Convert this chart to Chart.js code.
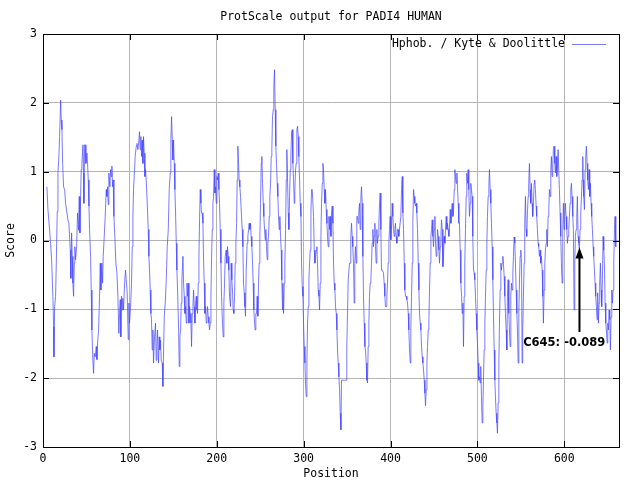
<!DOCTYPE html>
<html>
<head>
<meta charset="utf-8">
<script src="https://cdn.jsdelivr.net/npm/chart.js@4.4.1/dist/chart.umd.min.js"></script>
<style>
  html, body { margin: 0; padding: 0; background: #fff; }
  #wrap { width: 639px; height: 483px; position: relative; }
</style>
</head>
<body>
<div id="wrap"><canvas id="protChart"></canvas></div>
<script>
// Values (position, Kyte & Doolittle score)
const positions = [
  4.5, 5.7, 7.6, 8.7, 9.9, 11.4, 12.2, 12.6, 13.4, 14.5, 15.3, 16.4, 17.2, 18.3, 19.1, 20.3, 21.0, 21.8, 22.6, 23.7,
  24.9, 26.0, 28.7, 29.8, 31.4, 32.1, 32.9, 33.7, 34.4, 35.2, 36.0, 36.7, 37.5, 38.7, 39.8, 41.0, 41.7, 42.5, 43.3, 44.0,
  44.8, 46.0, 46.7, 47.1, 47.9, 48.6, 49.4, 50.6, 51.3, 52.1, 52.9, 53.6, 54.8, 55.5, 56.3, 57.5, 58.2, 59.0, 60.1, 61.3,
  62.1, 62.8, 64.0, 65.1, 65.9, 66.6, 67.8, 68.6, 69.3, 70.5, 71.6, 72.8, 73.5, 74.3, 75.1, 75.8, 77.0, 77.8, 78.5, 79.3,
  80.1, 80.8, 81.6, 82.7, 83.9, 85.1, 86.2, 87.3, 88.1, 88.9, 89.6, 90.4, 91.2, 91.9, 92.7, 93.9, 95.0, 95.8, 96.9, 98.1,
  98.9, 99.6, 100.8, 101.9, 102.7, 103.5, 104.2, 105.4, 106.1, 107.3, 108.1, 109.2, 110.4, 111.1, 111.9, 112.7, 113.4, 114.2, 115.0, 115.7,
  116.5, 117.3, 118.0, 118.8, 120.0, 121.1, 121.9, 122.6, 123.4, 124.2, 124.9, 125.7, 126.5, 127.2, 128.4, 129.5, 130.3, 131.1, 131.8, 133.0,
  133.8, 134.5, 135.3, 136.1, 137.2, 138.0, 138.8, 139.6, 140.7, 141.9, 143.0, 144.2, 145.3, 146.5, 147.2, 148.0, 148.8, 149.5, 150.3, 151.1,
  151.8, 152.6, 153.4, 154.1, 154.9, 156.1, 156.8, 157.6, 158.4, 159.1, 159.9, 161.1, 161.8, 162.6, 163.4, 164.1, 164.9, 165.7, 166.4, 167.2,
  168.0, 168.7, 169.5, 170.3, 171.0, 171.8, 172.6, 173.3, 174.1, 174.9, 175.6, 176.4, 177.2, 177.9, 178.7, 179.5, 180.2, 181.0, 181.8, 182.5,
  183.3, 184.1, 184.8, 185.6, 186.4, 187.1, 187.9, 188.7, 189.4, 190.2, 191.0, 191.7, 192.5, 193.3, 194.0, 194.8, 195.6, 196.3, 197.1, 197.9,
  198.6, 199.4, 200.2, 200.9, 201.7, 202.5, 203.2, 204.0, 204.8, 205.5, 206.3, 207.4, 208.2, 209.0, 209.7, 210.9, 211.6, 212.4, 213.2, 213.9,
  214.7, 215.9, 216.6, 217.4, 218.2, 218.9, 219.7, 220.5, 221.2, 222.0, 222.8, 223.5, 224.3, 225.1, 225.8, 226.6, 227.4, 228.5, 229.3, 230.1,
  230.8, 231.6, 232.4, 233.1, 233.9, 235.0, 235.8, 236.6, 237.3, 238.1, 238.9, 239.6, 240.4, 241.2, 241.9, 242.7, 243.5, 244.2, 245.0, 245.8,
  246.5, 247.3, 248.1, 248.8, 249.6, 250.4, 251.2, 251.9, 252.7, 253.5, 254.2, 255.0, 255.8, 256.5, 257.3, 258.1, 258.8, 259.6, 260.4, 261.1,
  261.9, 262.7, 263.4, 264.2, 265.0, 265.7, 266.5, 267.3, 268.0, 268.8, 269.6, 270.3, 271.1, 271.9, 272.6, 273.4, 274.2, 274.9, 275.7, 276.1,
  276.9, 277.7, 278.4, 279.2, 280.0, 280.7, 281.5, 282.3, 283.0, 283.8, 284.6, 285.3, 286.1, 286.9, 287.6, 288.4, 289.2, 289.9, 290.7, 291.5,
  292.2, 293.0, 293.8, 294.5, 295.3, 296.1, 296.9, 297.6, 298.4, 299.2, 299.9, 300.7, 301.5, 302.2, 303.0, 303.8, 304.5, 305.3, 306.1, 306.8,
  307.6, 308.4, 309.1, 309.9, 310.7, 311.4, 312.2, 313.0, 313.7, 314.5, 315.3, 316.0, 316.8, 317.6, 318.3, 319.1, 319.9, 320.6, 321.4, 322.2,
  322.9, 323.7, 324.5, 325.2, 326.0, 326.8, 327.5, 328.3, 329.1, 329.8, 330.6, 331.4, 332.1, 332.9, 333.7, 334.4, 335.2, 336.0, 336.7, 337.5,
  338.3, 339.0, 339.8, 340.6, 341.4, 342.1, 342.9, 343.6, 344.4, 345.1, 346.7, 348.2, 349.0, 349.7, 350.5, 351.3, 352.0, 352.8, 353.6, 354.3,
  355.1, 355.9, 356.6, 357.4, 358.2, 358.9, 359.7, 360.5, 361.2, 362.0, 362.8, 363.5, 364.3, 365.1, 365.9, 366.6, 367.4, 368.2, 368.9, 369.7,
  370.5, 371.2, 372.0, 372.8, 373.5, 374.3, 375.1, 375.8, 376.6, 377.4, 378.1, 378.9, 379.7, 380.4, 381.2, 382.0, 382.7, 383.5, 384.3, 385.0,
  385.8, 386.6, 387.3, 388.1, 388.9, 389.6, 390.4, 391.2, 391.9, 392.7, 393.5, 394.2, 395.0, 395.8, 396.5, 397.3, 398.1, 398.8, 399.6, 400.4,
  401.1, 401.9, 402.7, 403.4, 404.2, 405.0, 405.7, 406.5, 407.3, 408.0, 408.8, 409.6, 410.3, 411.9, 412.7, 413.5, 414.2, 415.0, 415.8, 416.5,
  417.3, 418.1, 418.8, 419.6, 420.4, 421.1, 421.9, 422.7, 423.4, 424.2, 425.0, 425.7, 426.5, 427.3, 428.0, 428.8, 429.6, 430.3, 431.1, 431.9,
  432.7, 433.4, 434.2, 435.0, 435.7, 436.5, 437.3, 438.0, 438.8, 439.6, 440.3, 441.1, 441.9, 442.6, 443.4, 444.2, 444.9, 445.7, 446.5, 447.2,
  448.0, 448.8, 449.5, 450.3, 451.1, 451.8, 452.6, 453.4, 454.1, 454.9, 455.7, 456.4, 457.2, 458.0, 458.7, 459.5, 460.3, 461.0, 461.8, 462.6,
  463.3, 464.1, 464.9, 465.6, 466.4, 467.2, 467.9, 468.7, 469.5, 470.2, 471.0, 471.8, 472.5, 473.3, 474.1, 474.8, 475.6, 476.4, 477.1, 477.9,
  478.7, 479.4, 480.2, 481.0, 481.8, 482.5, 483.3, 484.0, 484.8, 485.5, 486.3, 487.1, 487.8, 488.6, 489.4, 490.1, 490.9, 491.7, 492.4, 493.2,
  494.0, 494.7, 495.5, 496.3, 497.0, 497.8, 498.6, 499.3, 500.1, 500.9, 501.6, 502.4, 503.2, 503.9, 504.7, 505.5, 506.3, 507.0, 507.8, 508.6,
  509.3, 510.1, 510.9, 511.6, 512.4, 513.2, 513.9, 514.7, 515.5, 516.2, 517.0, 517.8, 518.5, 519.3, 520.1, 520.8, 521.6, 522.4, 523.1, 523.9,
  524.7, 525.4, 526.2, 527.0, 527.7, 528.5, 529.3, 530.0, 530.8, 531.6, 532.3, 533.1, 533.9, 534.6, 535.4, 536.2, 536.9, 537.7, 538.5, 539.2,
  540.0, 540.8, 541.5, 542.3, 543.1, 543.8, 544.6, 545.4, 546.1, 546.9, 547.7, 548.4, 549.2, 550.0, 550.8, 551.5, 552.2, 553.0, 553.8, 554.5,
  555.3, 556.1, 556.8, 557.6, 558.4, 559.1, 559.9, 560.7, 561.4, 562.2, 563.0, 563.7, 564.5, 565.3, 566.0, 566.8, 567.6, 568.3, 569.1, 569.9,
  570.6, 571.4, 572.2, 572.9, 573.7, 574.5, 575.3, 576.0, 576.8, 577.6, 578.3, 579.1, 579.9, 580.6, 581.4, 582.2, 582.9, 583.7, 584.5, 585.2,
  586.0, 586.8, 587.5, 588.3, 589.1, 589.8, 590.6, 591.4, 592.1, 592.9, 593.7, 594.4, 595.2, 596.0, 596.7, 597.5, 598.3, 599.0, 599.8, 600.6,
  601.3, 602.1, 602.9, 603.6, 604.4, 605.2, 605.9, 606.7, 607.5, 608.2, 609.0, 609.8, 610.5, 611.3, 612.1, 612.8, 613.6, 614.4, 615.1, 615.9,
  616.7, 617.4, 618.2, 619.0, 619.8, 620.5, 621.3, 621.7, 622.4, 623.2, 624.0, 624.7, 625.5, 626.3, 627.0, 627.8, 628.6, 629.3, 630.1, 630.9,
  631.6, 632.4, 633.2, 633.9, 634.7, 635.5, 636.2, 637.0, 637.8, 638.5, 639.3, 640.1, 640.8, 641.6, 642.4, 643.1, 643.9, 644.7, 645.5, 646.2,
  647.0, 647.8, 648.5, 649.3, 650.1, 650.8, 651.6, 652.4, 653.1, 653.9, 654.7, 655.5, 656.2, 657.0, 657.8, 658.5, 659.3
];
const scores = [
  0.78, 0.45, 0.15, -0.04, -0.28, -0.81, -1.25, -1.69, -0.96, -0.81, -0.33, 0.42, 0.98, 1.22, 1.51, 2.04, 1.75, 1.61, 1.12, 0.78,
  0.74, 0.54, 0.30, 0.25, -0.14, -0.55, 0.11, -0.23, -0.62, -0.81, -0.33, -0.09, -0.28, -0.09, 0.40, 0.15, 0.64, 0.11, 0.64, 1.03,
  1.12, 1.39, 0.98, 0.54, 1.39, 1.39, 1.12, 1.27, 1.12, 0.88, 0.50, 0.16, -0.23, -0.72, -1.30, -1.78, -1.93, -1.64, -1.69, -1.54,
  -1.73, -1.49, -1.30, -0.81, -0.33, -0.72, -0.33, -0.62, -0.23, 0.06, 0.35, 0.74, 0.64, 0.78, 0.52, 0.98, 0.78, 1.03, 0.93, 1.08,
  0.78, 0.88, 0.35, 0.06, -0.33, -0.47, -0.81, -1.35, -1.06, -0.86, -1.40, -0.81, -1.01, -0.84, -1.01, -0.62, -0.43, -0.57, -0.76, -1.44,
  -0.91, -1.20, -0.96, -0.62, -0.09, 0.35, 0.74, 1.03, 1.22, 1.37, 1.41, 1.32, 1.46, 1.58, 1.32, 1.51, 1.22, 1.46, 1.12, 1.51,
  1.27, 0.93, 1.03, 0.88, 0.54, 0.16, -0.23, -0.43, -0.72, -1.06, -1.15, -1.59, -1.30, -1.78, -1.40, -1.20, -1.74, -1.54, -1.30, -1.78,
  -1.40, -1.59, -1.45, -1.74, -1.78, -2.12, -1.59, -1.10, -0.91, -0.57, -0.09, 0.16, 0.74, 0.98, 1.46, 1.80, 1.46, 1.17, 1.46, 1.12,
  0.74, 0.40, -0.04, -0.43, -0.72, -1.30, -1.83, -1.40, -1.30, -0.91, -0.57, -0.23, -0.62, -0.81, -1.06, -0.96, -1.20, -0.62, -0.81, -0.62,
  -1.20, -0.96, -1.06, -1.20, -1.54, -1.06, -0.96, -0.72, -0.96, -1.20, -0.91, -0.81, -1.01, -1.06, -0.62, -0.23, 0.30, 0.74, 0.54, 0.40,
  0.40, 0.25, -0.28, -0.62, -1.06, -0.96, -1.20, -1.11, -0.96, -1.11, -1.20, -1.30, -1.20, -0.81, -0.28, 0.16, 0.54, 0.64, 1.03, 0.69,
  0.78, 0.54, 0.93, 0.88, 0.98, 0.74, 0.54, 0.16, -0.33, -0.81, -1.11, -1.40, -0.91, -0.62, -0.23, -0.14, -0.33, -0.09, -0.23, -0.43,
  -0.81, -0.96, -0.33, -0.57, -0.76, -1.01, -1.06, -0.81, -0.33, -0.04, 0.25, 0.88, 1.37, 1.12, 0.88, 0.78, 0.64, 0.35, 0.16, -0.09,
  -0.62, -0.76, -0.96, -1.10, -0.43, -0.04, 0.06, 0.16, 0.25, 0.16, 0.25, 0.06, -0.09, -0.33, -0.62, -1.01, -1.20, -1.30, -1.06, -1.06,
  -0.81, -1.10, -0.62, -0.33, 0.06, 0.54, 1.12, 1.22, 0.83, 0.54, 0.35, 0.16, 0.01, 0.16, -0.09, -0.28, -0.04, 0.06, 0.35, 0.64,
  0.83, 1.22, 1.32, 1.80, 1.90, 2.24, 2.48, 1.90, 1.37, 1.12, 0.83, 0.64, 0.35, 0.16, 0.35, 0.06, -0.14, -0.57, -1.01, -0.62,
  -1.06, -0.62, -0.33, 0.16, 0.88, 1.32, 0.88, 0.40, 0.16, 0.64, 1.03, 1.22, 1.56, 1.61, 1.12, 0.88, 0.54, 0.74, 1.03, 1.12,
  1.61, 1.66, 1.51, 1.22, 0.88, 0.54, 0.35, -0.33, -0.67, -0.81, -1.20, -1.54, -1.78, -2.07, -2.27, -1.78, -1.20, -0.96, -0.57, -0.33,
  -0.14, 0.40, 0.74, 0.74, 0.74, 0.35, -0.14, -0.33, -0.23, -0.14, -0.09, -0.33, -0.72, -0.81, -1.01, -0.62, 0.06, 0.54, 0.83, 1.12,
  1.03, 0.74, 0.54, 0.74, 0.45, 0.25, 0.06, -0.09, 0.35, 0.16, 0.35, 0.06, 0.40, 0.50, 0.25, -0.33, -0.62, -0.72, -0.96, -1.06,
  -1.30, -1.59, -1.78, -1.98, -2.17, -2.51, -2.75, -2.03, -2.03, -2.03, -2.03, -2.03, -2.03, -1.54, -1.06, -0.57, -0.57, -0.33, -0.33, 0.06,
  0.25, 0.06, -0.09, -0.33, -0.91, -0.33, -0.09, -0.33, 0.35, 0.35, 0.25, 0.40, 0.54, 0.16, 0.64, 0.78, 0.54, -0.23, -0.81, -1.20,
  -1.54, -1.59, -1.78, -2.03, -2.07, -1.54, -1.20, -0.81, -0.62, -0.57, -0.33, -0.04, 0.16, -0.09, 0.06, 0.25, -0.09, -0.33, 0.16, -0.04,
  0.06, 0.25, 0.50, 0.69, 0.16, -0.43, -0.43, -0.43, -0.47, -0.62, -0.81, -0.96, -0.96, -0.81, -0.62, -0.33, -0.04, 0.16, 0.35, 0.01,
  0.16, 0.54, 0.35, 0.16, 0.06, 0.16, 0.25, 0.06, -0.04, 0.16, 0.16, 0.06, 0.16, 0.35, 0.74, 0.93, 0.40, 0.16, -0.33, -0.72,
  -0.81, -0.81, -0.86, -0.91, -1.06, -1.30, -1.59, -1.78, -1.30, -0.81, -0.33, 0.25, 0.74, 0.64, 0.54, 0.50, 0.54, 0.40, 0.16, -0.33,
  -0.72, -1.06, -1.20, -1.30, -1.54, -1.69, -1.78, -1.88, -2.03, -2.22, -2.40, -2.17, -1.78, -1.54, -1.30, -1.15, -0.72, -0.33, 0.06, 0.16,
  0.30, 0.06, -0.09, 0.16, 0.35, -0.04, -0.23, -0.14, 0.16, 0.06, -0.14, -0.33, -0.09, 0.06, 0.30, 0.16, -0.38, -0.23, 0.06, -0.04,
  0.16, 0.35, 0.16, 0.25, 0.16, 0.06, 0.20, 0.45, 0.25, 0.40, 0.54, 0.35, 0.40, 0.74, 1.03, 0.93, 0.83, 0.98, 0.78, 0.54,
  0.25, 0.25, -0.14, -0.62, -0.81, -1.06, -0.91, -1.54, -0.81, -0.33, 0.16, 0.64, 0.98, 0.83, 1.03, 0.74, 0.35, 0.54, 0.83, 0.74,
  0.64, 0.06, -0.43, -0.47, -0.57, -0.81, -1.06, -1.30, -1.49, -1.78, -2.03, -1.98, -2.07, -1.83, -2.27, -2.65, -2.41, -2.03, -1.59, -1.20,
  -0.81, -0.43, -0.04, 0.35, 0.64, 0.78, 1.03, 0.74, 0.54, 0.25, -0.09, -0.57, -1.06, -1.59, -2.03, -2.27, -2.51, -2.65, -2.80, -2.36,
  -1.78, -1.20, -0.72, -0.33, -0.43, -0.33, -0.23, -0.33, -0.52, -0.81, -1.06, -1.30, -1.59, -0.81, -0.57, -1.06, -1.30, -1.54, -0.81, -0.62,
  -0.72, -0.47, -0.23, 0.05, -0.04, -0.33, -0.72, -1.06, -1.30, -1.78, -1.06, -0.62, -0.23, -0.14, -0.33, -1.78, -1.30, -0.81, -0.33, 0.25,
  0.64, 0.16, 0.06, 0.40, 0.64, 0.83, 1.12, 0.74, 0.54, 0.83, 0.54, 0.35, 0.54, 0.83, 0.88, 0.74, 0.50, 0.35, 0.16, -0.04,
  -0.09, -0.23, -0.14, -0.33, -0.23, -0.43, -0.81, -1.20, -0.72, -0.33, -0.14, -0.04, 0.16, -0.09, 0.35, 0.45, 0.74, 0.64, 1.03, 1.22,
  0.93, 1.12, 1.32, 1.37, 1.12, 0.98, 1.22, 0.93, 1.03, 1.32, 1.32, 0.74, 0.40, 0.06, -0.33, -0.62, 0.16, 0.54, 0.16, 0.35,
  0.54, 0.35, 0.16, -0.04, 0.06, 0.16, 0.35, 0.54, 0.74, 0.83, 0.64, 0.35, 0.16, -1.01, -0.33, 0.06, 0.16, 0.35, 0.64, 0.06,
  -0.04, -0.14, 0.16, 0.40, 0.64, 0.88, 1.22, 0.88, 0.64, 0.45, 1.03, 1.22, 1.37, 1.12, 0.88, 0.74, 1.03, 0.64, 0.83, 0.54,
  0.35, 0.16, -0.09, -0.23, -0.43, -0.62, -0.81, -0.96, -1.15, -0.76, -1.20, -0.91, -0.62, -0.33, -0.72, -0.96, -0.57, 0.06, -0.14, -0.33,
  -0.91, -1.20, -1.30, -1.49, -1.20, -1.30, -1.01, -1.15, -1.59, -1.11, -0.72, -0.91, -0.72, -0.33, 0.16, 0.35, -0.09
];
const xTicks = [0, 100, 200, 300, 400, 500, 600];
const yTicks = [-3, -2, -1, 0, 1, 2, 3];
const seriesName = 'Hphob. / Kyte & Doolittle';
const chartTitle = 'ProtScale output for PADI4 HUMAN';
const note = { text: 'C645: -0.089', arrowX: 617.5, tipY: -0.1, tailY: -1.33, labelX: 600, labelY: -1.49 };

const MONO = '11.5px "DejaVu Sans Mono", "Liberation Mono", monospace';
const LINE_COLOR = 'rgba(70, 70, 255, 0.72)';

// gnuplot-like frame: box on all sides, ticks pointing inwards, texts
const gnuplotFrame = {
  id: 'gnuplotFrame',
  afterDraw(chart) {
    const { ctx, chartArea: a, scales } = chart;
    const xs = scales.x, ys = scales.y;
    ctx.save();
    ctx.strokeStyle = '#000';
    ctx.lineWidth = 1;
    ctx.strokeRect(Math.round(a.left) + 0.5, Math.round(a.top) + 0.5,
      Math.round(a.right - a.left), Math.round(a.bottom - a.top));
    ctx.beginPath();
    xTicks.forEach(t => {
      const x = Math.round(xs.getPixelForValue(t)) + 0.5;
      ctx.moveTo(x, a.bottom); ctx.lineTo(x, a.bottom - 6);
      ctx.moveTo(x, a.top); ctx.lineTo(x, a.top + 6);
    });
    yTicks.forEach(t => {
      const y = Math.round(ys.getPixelForValue(t)) + 0.5;
      ctx.moveTo(a.left, y); ctx.lineTo(a.left + 6, y);
      ctx.moveTo(a.right, y); ctx.lineTo(a.right - 6, y);
    });
    ctx.stroke();

    // title and axis names
    ctx.fillStyle = '#000';
    ctx.font = MONO;
    ctx.textAlign = 'center';
    ctx.textBaseline = 'middle';
    ctx.fillText(chartTitle, (a.left + a.right) / 2, 17);
    ctx.fillText('Position', (a.left + a.right) / 2, 474);
    ctx.save();
    ctx.translate(11, (a.top + a.bottom) / 2);
    ctx.rotate(-Math.PI / 2);
    ctx.fillText('Score', 0, 0);
    ctx.restore();

    // key, top right
    ctx.textAlign = 'right';
    ctx.fillText(seriesName, a.right - 54, a.top + 10);
    ctx.strokeStyle = LINE_COLOR;
    ctx.beginPath();
    ctx.moveTo(a.right - 47, a.top + 10.5);
    ctx.lineTo(a.right - 13, a.top + 10.5);
    ctx.stroke();

    // annotation arrow + label
    const ax = xs.getPixelForValue(note.arrowX);
    const tip = ys.getPixelForValue(note.tipY);
    const tail = ys.getPixelForValue(note.tailY);
    ctx.strokeStyle = '#000';
    ctx.fillStyle = '#000';
    ctx.lineWidth = 2;
    ctx.beginPath();
    ctx.moveTo(ax, tail);
    ctx.lineTo(ax, tip + 8);
    ctx.stroke();
    ctx.beginPath();
    ctx.moveTo(ax, tip);
    ctx.lineTo(ax - 4, tip + 11);
    ctx.lineTo(ax + 4, tip + 11);
    ctx.closePath();
    ctx.fill();
    ctx.font = 'bold 11.5px "DejaVu Sans", sans-serif';
    ctx.textAlign = 'center';
    ctx.fillText(note.text, xs.getPixelForValue(note.labelX), ys.getPixelForValue(note.labelY));
    ctx.restore();
  }
};

new Chart(document.getElementById('protChart'), {
  type: 'line',
  data: {
    datasets: [{
      label: seriesName,
      data: positions.map((p, i) => ({ x: p, y: scores[i] })),
      borderColor: LINE_COLOR,
      borderWidth: 1,
      pointRadius: 0,
      tension: 0,
      fill: false
    }]
  },
  options: {
    responsive: true,
    maintainAspectRatio: false,
    animation: false,
    layout: { padding: { top: 34, right: 20, left: 0, bottom: 0 } },
    plugins: {
      legend: { display: false },
      title: { display: false },
      tooltip: { enabled: false }
    },
    scales: {
      x: {
        type: 'linear',
        min: 0,
        max: 663,
        afterFit: s => { s.height = 36; },
        ticks: {
          stepSize: 100,
          includeBounds: false,
          color: '#000',
          font: { family: '"DejaVu Sans Mono", monospace', size: 11.5 },
          padding: 5,
          maxRotation: 0
        },
        grid: { color: '#b4b4b4', drawTicks: false },
        border: { color: '#000' }
      },
      y: {
        type: 'linear',
        min: -3,
        max: 3,
        afterFit: s => { s.width = 43; },
        ticks: {
          stepSize: 1,
          color: '#000',
          font: { family: '"DejaVu Sans Mono", monospace', size: 11.5 },
          padding: 6
        },
        grid: { color: '#b4b4b4', drawTicks: false },
        border: { color: '#000' }
      }
    }
  },
  plugins: [gnuplotFrame]
});
</script>
</body>
</html>
